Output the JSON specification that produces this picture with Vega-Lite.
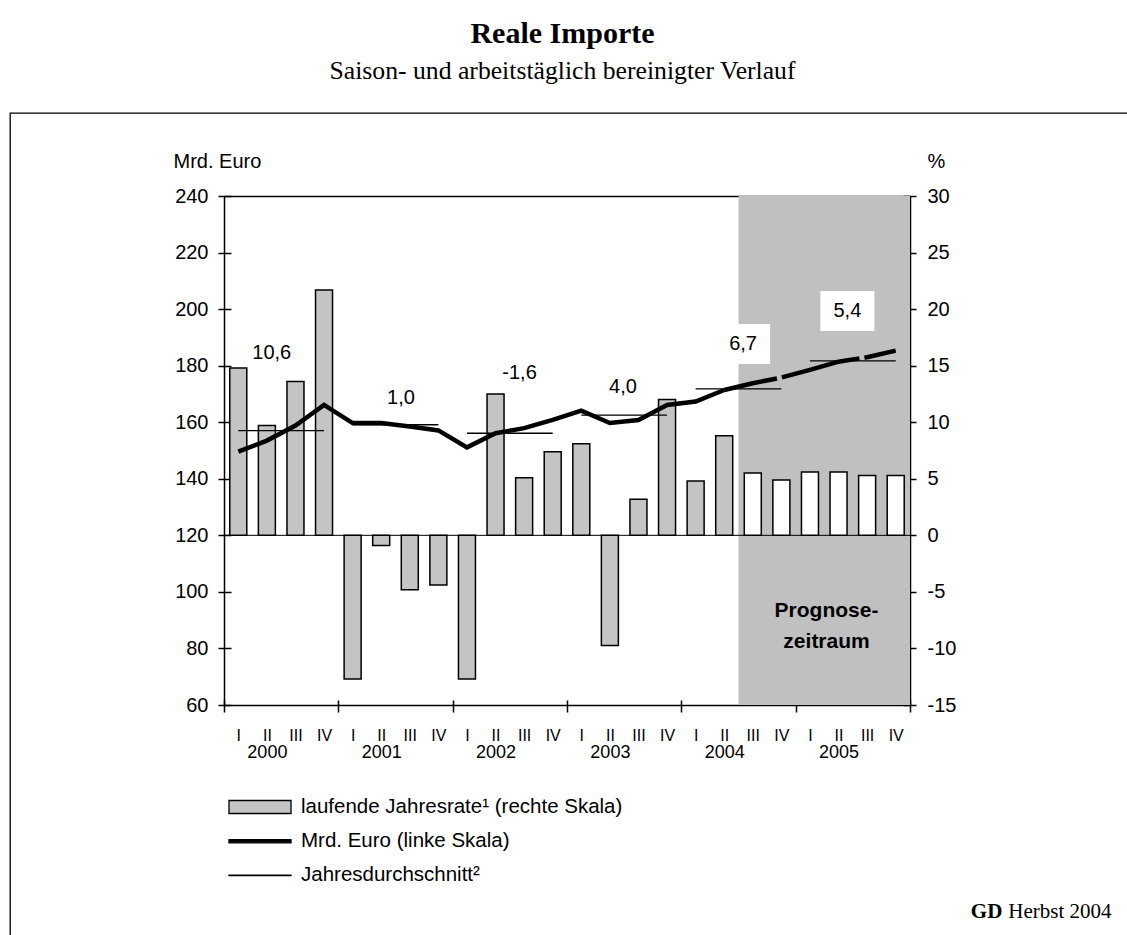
{
  "$schema": "https://vega.github.io/schema/vega-lite/v6.json",
  "width": 1120,
  "height": 825,
  "autosize": {"type": "none"},
  "padding": {"left": 10, "top": 113, "right": -3, "bottom": -3},
  "background": "white",
  "title": {
    "text": "Reale Importe",
    "subtitle": "Saison- und arbeitstäglich bereinigter Verlauf",
    "font": "Liberation Serif",
    "fontSize": 30,
    "fontWeight": "bold",
    "color": "black",
    "subtitleFont": "Liberation Serif",
    "subtitleFontSize": 25.7,
    "subtitleFontWeight": "normal",
    "subtitleColor": "black",
    "subtitlePadding": 10,
    "anchor": "middle",
    "offset": 29,
    "dx": -7.5
  },
  "config": {
    "view": {"stroke": "black", "strokeWidth": 1.3},
    "font": "Liberation Sans",
    "axis": {
      "domainColor": "black",
      "domainWidth": 1.5,
      "tickColor": "black",
      "tickWidth": 1.5,
      "labelColor": "black",
      "titleColor": "black",
      "labelFont": "Liberation Sans",
      "titleFont": "Liberation Sans",
      "grid": false
    }
  },
  "datasets": {
    "quartale": [
      {"q": 0, "jahr": 2000, "quartal": "I", "rate": 14.8, "mrd": 149.6, "phase": "Ist"},
      {"q": 1, "jahr": 2000, "quartal": "II", "rate": 9.7, "mrd": 153.5, "phase": "Ist"},
      {"q": 2, "jahr": 2000, "quartal": "III", "rate": 13.6, "mrd": 158.8, "phase": "Ist"},
      {"q": 3, "jahr": 2000, "quartal": "IV", "rate": 21.7, "mrd": 166.1, "phase": "Ist"},
      {"q": 4, "jahr": 2001, "quartal": "I", "rate": -12.7, "mrd": 159.7, "phase": "Ist"},
      {"q": 5, "jahr": 2001, "quartal": "II", "rate": -0.9, "mrd": 159.7, "phase": "Ist"},
      {"q": 6, "jahr": 2001, "quartal": "III", "rate": -4.8, "mrd": 158.5, "phase": "Ist"},
      {"q": 7, "jahr": 2001, "quartal": "IV", "rate": -4.4, "mrd": 157.1, "phase": "Ist"},
      {"q": 8, "jahr": 2002, "quartal": "I", "rate": -12.7, "mrd": 151.1, "phase": "Ist"},
      {"q": 9, "jahr": 2002, "quartal": "II", "rate": 12.5, "mrd": 156.1, "phase": "Ist"},
      {"q": 10, "jahr": 2002, "quartal": "III", "rate": 5.1, "mrd": 157.9, "phase": "Ist"},
      {"q": 11, "jahr": 2002, "quartal": "IV", "rate": 7.4, "mrd": 160.8, "phase": "Ist"},
      {"q": 12, "jahr": 2003, "quartal": "I", "rate": 8.1, "mrd": 164.1, "phase": "Ist"},
      {"q": 13, "jahr": 2003, "quartal": "II", "rate": -9.75, "mrd": 159.7, "phase": "Ist"},
      {"q": 14, "jahr": 2003, "quartal": "III", "rate": 3.2, "mrd": 160.8, "phase": "Ist"},
      {"q": 15, "jahr": 2003, "quartal": "IV", "rate": 12.0, "mrd": 166.1, "phase": "Ist"},
      {"q": 16, "jahr": 2004, "quartal": "I", "rate": 4.8, "mrd": 167.3, "phase": "Ist"},
      {"q": 17, "jahr": 2004, "quartal": "II", "rate": 8.8, "mrd": 171.4, "phase": "Ist"},
      {"q": 18, "jahr": 2004, "quartal": "III", "rate": 5.5, "mrd": 173.8, "phase": "Prognose"},
      {"q": 19, "jahr": 2004, "quartal": "IV", "rate": 4.9, "mrd": 175.8, "phase": "Prognose"},
      {"q": 20, "jahr": 2005, "quartal": "I", "rate": 5.6, "mrd": 178.5, "phase": "Prognose"},
      {"q": 21, "jahr": 2005, "quartal": "II", "rate": 5.6, "mrd": 181.4, "phase": "Prognose"},
      {"q": 22, "jahr": 2005, "quartal": "III", "rate": 5.3, "mrd": 183.0, "phase": "Prognose"},
      {"q": 23, "jahr": 2005, "quartal": "IV", "rate": 5.3, "mrd": 185.3, "phase": "Prognose"}
    ],
    "jahre": [
      {"jahr": 2000, "von": 0, "bis": 3, "schnitt": 157.0},
      {"jahr": 2001, "von": 4, "bis": 7, "schnitt": 159.1},
      {"jahr": 2002, "von": 8, "bis": 11, "schnitt": 156.1},
      {"jahr": 2003, "von": 12, "bis": 15, "schnitt": 162.5},
      {"jahr": 2004, "von": 16, "bis": 19, "schnitt": 171.8},
      {"jahr": 2005, "von": 20, "bis": 23, "schnitt": 181.7}
    ],
    "labels": [
      {"text": "10,6", "q": 1.17, "wert": 184.5},
      {"text": "1,0", "q": 5.69, "wert": 168.5},
      {"text": "-1,6", "q": 9.84, "wert": 177.3},
      {"text": "4,0", "q": 13.46, "wert": 172.6},
      {"text": "6,7", "q": 17.66, "wert": 187.7},
      {"text": "5,4", "q": 21.31, "wert": 199.3}
    ],
    "legende": [
      {"serie": "laufende Jahresrate¹ (rechte Skala)"},
      {"serie": "Mrd. Euro (linke Skala)"},
      {"serie": "Jahresdurchschnitt²"}
    ]
  },
  "layer": [
    {
      "data": {"values": [{}]},
      "mark": {"type": "rect", "color": "#c0c0c0"},
      "encoding": {
        "x": {"datum": 17.5, "type": "quantitative", "scale": {"domain": [-0.5, 23.5], "range": [214, 900], "nice": false, "zero": false, "padding": 0}, "axis": null},
        "x2": {"datum": 23.5},
        "y": {"datum": -15, "type": "quantitative", "scale": {"domain": [-15, 30], "range": [592, 83], "nice": false, "zero": false},
          "axis": {"orient": "left", "offset": -900, "values": [-15, -10, -5, 0, 5, 10, 15, 20, 25, 30], "tickSize": 7, "labels": false, "domain": false, "title": null}},
        "y2": {"datum": 30}
      }
    },
    {
      "data": {"values": [{}]},
      "mark": {"type": "rule", "color": "black", "strokeWidth": 1},
      "encoding": {
        "x": {"datum": -0.5, "type": "quantitative",
          "axis": {"orient": "top", "offset": -83, "ticks": false, "labels": false, "domain": true, "title": null, "domainWidth": 1.3}},
        "x2": {"datum": 23.5},
        "y": {"datum": 0, "type": "quantitative", "scale": {"domain": [-15, 30], "range": [592, 83], "nice": false, "zero": false}, "axis": null}
      }
    },
    {
      "data": {"name": "quartale"},
      "mark": {"type": "bar", "orient": "vertical", "width": 17, "stroke": "black", "strokeWidth": 1.5},
      "encoding": {
        "x": {"field": "q", "type": "quantitative",
          "axis": {"orient": "bottom", "offset": -233, "values": [-0.5, 3.5, 7.5, 11.5, 15.5, 19.5, 23.5], "tickSize": 7, "labels": false, "title": null}},
        "y": {"field": "rate", "type": "quantitative", "scale": {"domain": [-15, 30], "range": [592, 83], "nice": false, "zero": false},
          "axis": {"orient": "right", "offset": -220, "values": [-15, -10, -5, 0, 5, 10, 15, 20, 25, 30], "tickSize": 6, "labelPadding": 11, "labelFontSize": 20, "labelAlign": "left",
            "labelExpr": "'' + datum.value",
            "title": "%", "titleAngle": 0, "titleAlign": "left", "titleBaseline": "alphabetic", "titleX": 17, "titleY": 54, "titleFontSize": 20, "titleFontWeight": "normal"}},
        "y2": {"datum": 0},
        "color": {"condition": {"test": "datum.phase === 'Prognose'", "value": "white"}, "value": "#c4c4c4"}
      }
    },
    {
      "data": {"name": "jahre"},
      "mark": {"type": "rule", "color": "black", "strokeWidth": 1.3},
      "encoding": {
        "x": {"field": "von", "type": "quantitative",
          "axis": {"orient": "bottom", "offset": -233, "values": [0, 1, 2, 3, 4, 5, 6, 7, 8, 9, 10, 11, 12, 13, 14, 15, 16, 17, 18, 19, 20, 21, 22, 23],
            "ticks": false, "tickSize": 0, "domain": false, "labelPadding": 22, "labelFontSize": 16, "labelBaseline": "top",
            "labelExpr": "['I','II','III','IV'][datum.value % 4]", "title": null}},
        "x2": {"field": "bis"},
        "y": {"field": "schnitt", "type": "quantitative", "scale": {"domain": [60, 240], "range": [592, 83], "nice": false, "zero": false}, "axis": null}
      }
    },
    {
      "data": {"name": "quartale"},
      "transform": [{"filter": "datum.q <= 17"}],
      "mark": {"type": "line", "color": "black", "strokeWidth": 4.5},
      "encoding": {
        "x": {"field": "q", "type": "quantitative",
          "axis": {"orient": "bottom", "offset": -233, "values": [1, 5, 9, 13, 17, 21],
            "ticks": false, "tickSize": 0, "domain": false, "labelPadding": 38, "labelFontSize": 18, "labelBaseline": "top",
            "labelExpr": "'' + (2000 + floor(datum.value / 4))", "title": null}},
        "y": {"field": "mrd", "type": "quantitative", "scale": {"domain": [60, 240], "range": [592, 83], "nice": false, "zero": false},
          "axis": {"orient": "left", "offset": -214, "values": [60, 80, 100, 120, 140, 160, 180, 200, 220, 240], "tickSize": 6, "labelPadding": 10, "labelFontSize": 20,
            "title": "Mrd. Euro", "titleAngle": 0, "titleAlign": "left", "titleBaseline": "alphabetic", "titleX": -51, "titleY": 54, "titleFontSize": 20, "titleFontWeight": "normal"}}
      }
    },
    {
      "data": {"name": "quartale"},
      "transform": [{"filter": "datum.q >= 17"}],
      "mark": {"type": "line", "color": "black", "strokeWidth": 4.5, "strokeDash": [80, 5], "strokeDashOffset": 26},
      "encoding": {
        "x": {"field": "q", "type": "quantitative",
          "axis": {"orient": "top", "offset": -592, "values": [-0.5, 3.5, 7.5, 11.5, 15.5, 19.5, 23.5], "tickSize": 5, "labels": false, "domain": false, "title": null}},
        "y": {"field": "mrd", "type": "quantitative", "scale": {"domain": [60, 240], "range": [592, 83], "nice": false, "zero": false},
          "axis": {"orient": "right", "offset": -906, "values": [60, 80, 100, 120, 140, 160, 180, 200, 220, 240], "tickSize": 7, "labels": false, "domain": false, "title": null}}
      }
    },
    {
      "data": {"name": "labels"},
      "transform": [{"filter": "datum.q >= 17.5"}],
      "mark": {"type": "point", "shape": "M-1.35,-1H1.35V1H-1.35Z", "filled": true, "color": "white", "opacity": 1, "size": 1600},
      "encoding": {
        "x": {"field": "q", "type": "quantitative", "axis": null},
        "y": {"field": "wert", "type": "quantitative", "scale": {"domain": [60, 240], "range": [592, 83], "nice": false, "zero": false}, "axis": null}
      }
    },
    {
      "data": {"name": "labels"},
      "mark": {"type": "text", "font": "Liberation Sans", "fontSize": 20, "color": "black", "align": "center", "baseline": "middle"},
      "encoding": {
        "x": {"field": "q", "type": "quantitative", "axis": null},
        "y": {"field": "wert", "type": "quantitative", "scale": {"domain": [60, 240], "range": [592, 83], "nice": false, "zero": false}, "axis": null},
        "text": {"field": "text"}
      }
    },
    {
      "data": {"values": [{}]},
      "mark": {"type": "text", "font": "Liberation Sans", "fontSize": 21, "fontWeight": "bold", "color": "black", "align": "center", "baseline": "middle", "lineHeight": 31},
      "encoding": {
        "x": {"datum": 20.58, "type": "quantitative", "axis": null},
        "y": {"datum": 93.2, "type": "quantitative", "scale": {"domain": [60, 240], "range": [592, 83], "nice": false, "zero": false}, "axis": null},
        "text": {"value": ["Prognose-", "zeitraum"]}
      }
    },
    {
      "data": {"values": [{}]},
      "mark": {"type": "text", "font": "Liberation Serif", "fontSize": 21, "fontWeight": "bold", "color": "black", "align": "right", "baseline": "alphabetic"},
      "encoding": {
        "x": {"datum": 26.73, "type": "quantitative", "axis": null},
        "y": {"datum": -15.3, "type": "quantitative", "scale": {"domain": [60, 240], "range": [592, 83], "nice": false, "zero": false}, "axis": null},
        "text": {"value": "GD"}
      }
    },
    {
      "data": {"values": [{}]},
      "mark": {"type": "text", "font": "Liberation Serif", "fontSize": 21, "color": "black", "align": "left", "baseline": "alphabetic"},
      "encoding": {
        "x": {"datum": 26.94, "type": "quantitative", "axis": null},
        "y": {"datum": -15.3, "type": "quantitative", "scale": {"domain": [60, 240], "range": [592, 83], "nice": false, "zero": false}, "axis": null},
        "text": {"value": "Herbst 2004"}
      }
    },
    {
      "data": {"name": "legende"},
      "mark": {"type": "point", "filled": true, "opacity": 0, "strokeWidth": 1.3},
      "encoding": {
        "shape": {"field": "serie", "type": "nominal",
          "scale": {"domain": ["laufende Jahresrate¹ (rechte Skala)", "Mrd. Euro (linke Skala)", "Jahresdurchschnitt²"],
            "range": ["M-3.1,-0.65H3.1V0.65H-3.1Z", "M-3.1,-0.16H3.1V0.16H-3.1Z", "M-3.1,-0.02H3.1V0.02H-3.1Z"]},
          "legend": {"orient": "none", "legendX": 239, "legendY": 683, "title": null, "symbolSize": 400, "labelFontSize": 20.5, "labelFont": "Liberation Sans", "labelColor": "black",
            "labelOffset": 30, "rowPadding": 12.2, "padding": 0, "labelLimit": 600, "symbolStrokeColor": "black", "symbolStrokeWidth": 1.3, "symbolOpacity": 1}},
        "color": {"field": "serie", "type": "nominal",
          "scale": {"domain": ["laufende Jahresrate¹ (rechte Skala)", "Mrd. Euro (linke Skala)", "Jahresdurchschnitt²"], "range": ["#c4c4c4", "black", "black"]},
          "legend": {"orient": "none", "legendX": 239, "legendY": 683, "title": null, "symbolSize": 400, "labelFontSize": 20.5, "labelFont": "Liberation Sans", "labelColor": "black",
            "labelOffset": 30, "rowPadding": 12.2, "padding": 0, "labelLimit": 600, "symbolStrokeColor": "black", "symbolStrokeWidth": 1.3, "symbolOpacity": 1}},
        "stroke": {"field": "serie", "type": "nominal",
          "scale": {"domain": ["laufende Jahresrate¹ (rechte Skala)", "Mrd. Euro (linke Skala)", "Jahresdurchschnitt²"], "range": ["black", "black", "black"]},
          "legend": {"orient": "none", "legendX": 239, "legendY": 683, "title": null, "symbolSize": 400, "labelFontSize": 20.5, "labelFont": "Liberation Sans", "labelColor": "black",
            "labelOffset": 30, "rowPadding": 12.2, "padding": 0, "labelLimit": 600, "symbolStrokeColor": "black", "symbolStrokeWidth": 1.3, "symbolOpacity": 1}}
      }
    }
  ],
  "resolve": {
    "scale": {"y": "independent"},
    "axis": {"x": "independent", "y": "independent"}
  }
}
